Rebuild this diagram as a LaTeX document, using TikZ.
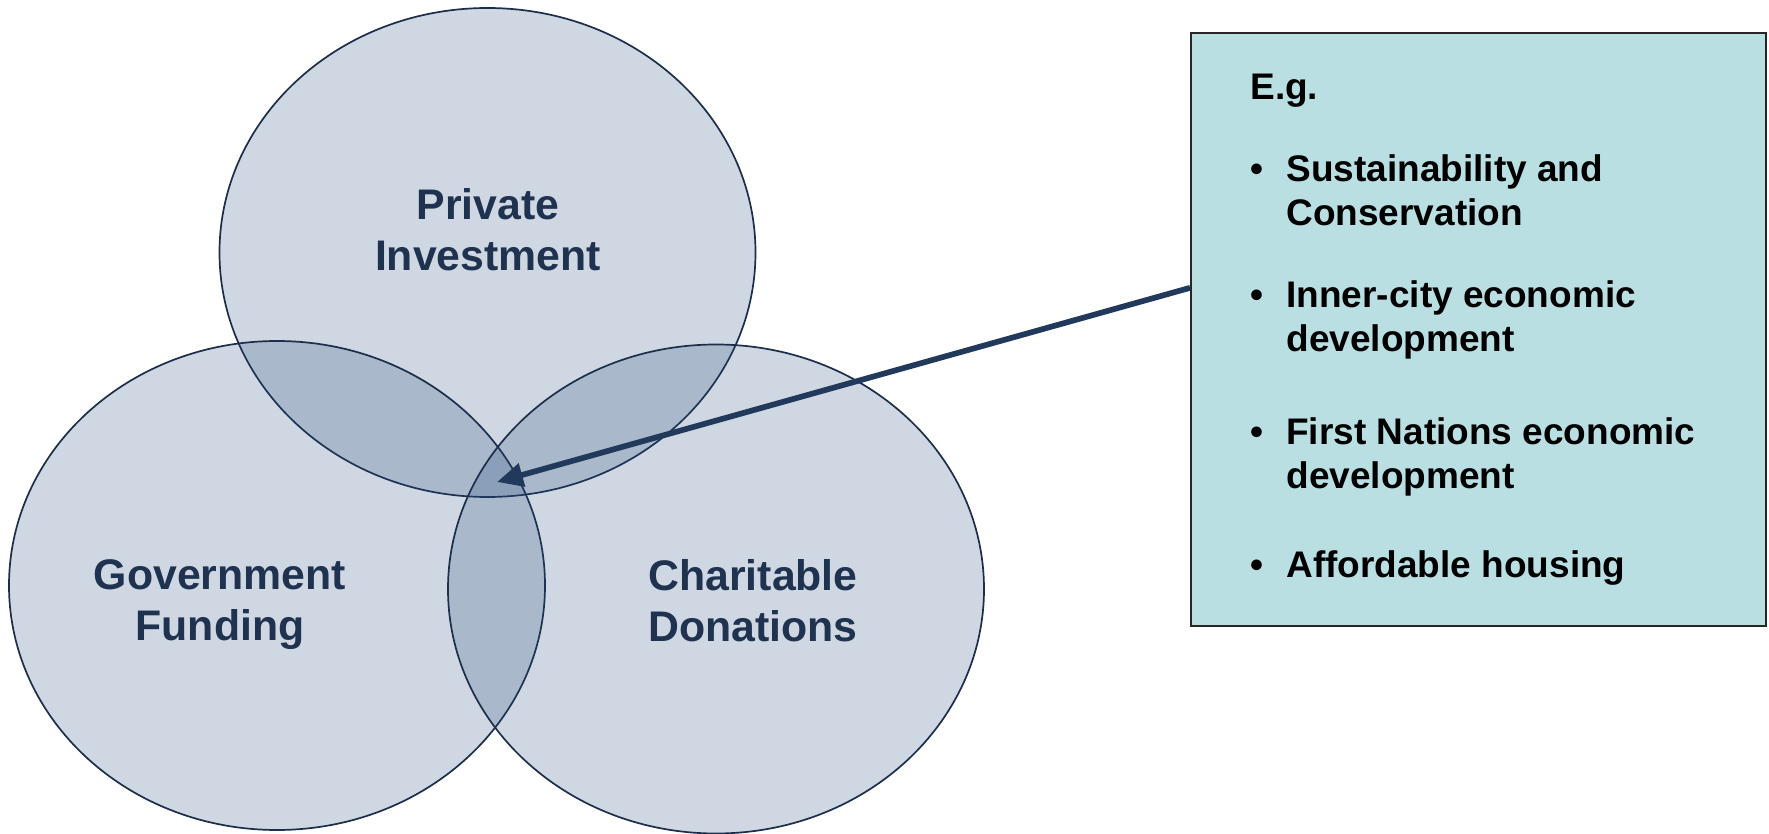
\documentclass[tikz,border=0pt]{standalone}
\usepackage{fontspec}
\setmainfont{Liberation Sans}
\usetikzlibrary{arrows.meta,calc,shapes.geometric}
\definecolor{navy}{HTML}{25497B}
\definecolor{edgec}{HTML}{1C2E4A}
\definecolor{lblc}{HTML}{1F324F}
\definecolor{boxfill}{HTML}{B9DFE3}
\definecolor{arrowc}{HTML}{213A5C}
\newcommand{\bul}{\llap{\textbullet\hspace{11.5pt}}}
\begin{document}
\begin{tikzpicture}[x=0.5pt,y=-0.5pt,
  venn/.style={ellipse, draw=edgec, line width=0.85pt, fill=navy, fill opacity=0.22,
    draw opacity=1, minimum width=268pt, minimum height=244.5pt, inner sep=0pt},
  vlabel/.style={font=\fontsize{21.4}{25.5}\selectfont\bfseries, text=lblc, align=center, inner sep=0pt},
  infobox/.style={draw=black!85, line width=1pt, fill=boxfill, minimum width=287.5pt,
    minimum height=296.5pt, inner sep=0pt},
  boxtext/.style={font=\fontsize{18.5}{22}\selectfont\bfseries, text=black, align=left,
    inner sep=0pt, anchor=north west},
  pointer/.style={draw=arrowc, line width=2.85pt, -{Triangle[length=13pt,width=11.5pt]}}
]
\useasboundingbox (0,0) rectangle (1769,834);
\node[venn] (pi) at (487.5,252.5) {};
\node[venn] (gf) at (277,585.5) {};
\node[venn] (cd) at (716,589) {};
\node[vlabel] (lpi) at (488,229.5) {Private\\Investment};
\node[vlabel] (lgf) at (220,605) {Government\\Funding};
\node[vlabel] (lcd) at (753,600.5) {Charitable\\Donations};
\node[infobox] (box) at (1478.5,329.5) {};
\node[boxtext] (eg) at (1250,74) {E.g.};
\node[boxtext] (i1) at (1286,154) {\bul Sustainability and\\Conservation};
\node[boxtext] (i2) at (1286,280) {\bul Inner-city economic\\development};
\node[boxtext] (i3) at (1286,417) {\bul First Nations economic\\development};
\node[boxtext] (i4) at (1286,550) {\bul Affordable housing};
\coordinate (tip) at (497,482);
\draw[pointer] ($(box.north west)!0.43!(box.south west)$) -- (tip);
\end{tikzpicture}
\end{document}
